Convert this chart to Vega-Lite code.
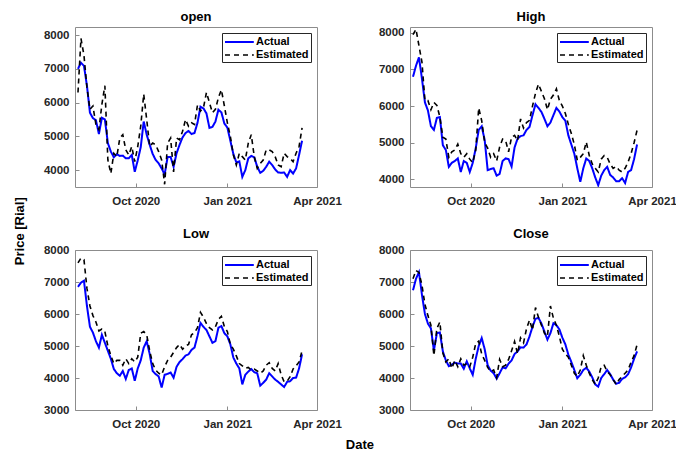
{
"$schema": "https://vega.github.io/schema/vega-lite/v6.json",
"background": "white",
"padding": {"left": 13, "top": 10, "right": 2, "bottom": 2},
"datasets": {
"open": [
{"date":"2020-08-04","Actual":7000,"Estimated":6300},{"date":"2020-08-07","Actual":7180,"Estimated":7900},{"date":"2020-08-10","Actual":7090,"Estimated":7400},{"date":"2020-08-13","Actual":6500,"Estimated":6450},{"date":"2020-08-16","Actual":5700,"Estimated":5800},{"date":"2020-08-19","Actual":5540,"Estimated":5900},{"date":"2020-08-22","Actual":5480,"Estimated":5350},{"date":"2020-08-25","Actual":5070,"Estimated":5200},{"date":"2020-08-28","Actual":5550,"Estimated":5950},{"date":"2020-08-31","Actual":5500,"Estimated":6500},
{"date":"2020-09-03","Actual":4800,"Estimated":4300},{"date":"2020-09-06","Actual":4550,"Estimated":3900},{"date":"2020-09-09","Actual":4380,"Estimated":4500},{"date":"2020-09-12","Actual":4470,"Estimated":4400},{"date":"2020-09-15","Actual":4420,"Estimated":4950},{"date":"2020-09-18","Actual":4430,"Estimated":5050},{"date":"2020-09-21","Actual":4350,"Estimated":4600},{"date":"2020-09-24","Actual":4350,"Estimated":4450},{"date":"2020-09-27","Actual":4450,"Estimated":4700},{"date":"2020-09-30","Actual":3950,"Estimated":4250},
{"date":"2020-10-03","Actual":4290,"Estimated":4700},{"date":"2020-10-06","Actual":4680,"Estimated":5300},{"date":"2020-10-09","Actual":5440,"Estimated":6250},{"date":"2020-10-12","Actual":5050,"Estimated":5500},{"date":"2020-10-15","Actual":4750,"Estimated":4700},{"date":"2020-10-18","Actual":4480,"Estimated":4800},{"date":"2020-10-21","Actual":4300,"Estimated":4750},{"date":"2020-10-24","Actual":4200,"Estimated":4550},{"date":"2020-10-27","Actual":4050,"Estimated":4300},{"date":"2020-10-30","Actual":3870,"Estimated":3580},
{"date":"2020-11-02","Actual":4390,"Estimated":4800},{"date":"2020-11-05","Actual":4390,"Estimated":4950},{"date":"2020-11-08","Actual":4100,"Estimated":3950},{"date":"2020-11-11","Actual":4500,"Estimated":4950},{"date":"2020-11-14","Actual":4750,"Estimated":4900},{"date":"2020-11-17","Actual":4970,"Estimated":5150},{"date":"2020-11-20","Actual":5100,"Estimated":5500},{"date":"2020-11-23","Actual":5160,"Estimated":5300},{"date":"2020-11-26","Actual":5070,"Estimated":5400},{"date":"2020-11-29","Actual":5100,"Estimated":5350},
{"date":"2020-12-02","Actual":5400,"Estimated":5930},{"date":"2020-12-05","Actual":5880,"Estimated":5750},{"date":"2020-12-08","Actual":5830,"Estimated":5850},{"date":"2020-12-11","Actual":5680,"Estimated":6300},{"date":"2020-12-14","Actual":5250,"Estimated":6000},{"date":"2020-12-17","Actual":5280,"Estimated":5700},{"date":"2020-12-20","Actual":5440,"Estimated":5800},{"date":"2020-12-23","Actual":5790,"Estimated":6150},{"date":"2020-12-26","Actual":5710,"Estimated":6380},{"date":"2020-12-29","Actual":5380,"Estimated":5900},
{"date":"2021-01-01","Actual":5260,"Estimated":5400},{"date":"2021-01-04","Actual":4870,"Estimated":5000},{"date":"2021-01-07","Actual":4480,"Estimated":4450},{"date":"2021-01-10","Actual":4230,"Estimated":4150},{"date":"2021-01-13","Actual":4260,"Estimated":4500},{"date":"2021-01-16","Actual":3800,"Estimated":4400},{"date":"2021-01-19","Actual":4000,"Estimated":4300},{"date":"2021-01-22","Actual":4350,"Estimated":4800},{"date":"2021-01-25","Actual":4420,"Estimated":5050},{"date":"2021-01-28","Actual":4380,"Estimated":4400},
{"date":"2021-01-31","Actual":4100,"Estimated":4050},{"date":"2021-02-03","Actual":3920,"Estimated":4200},{"date":"2021-02-06","Actual":3980,"Estimated":4300},{"date":"2021-02-09","Actual":4100,"Estimated":4600},{"date":"2021-02-12","Actual":4250,"Estimated":4600},{"date":"2021-02-15","Actual":4150,"Estimated":4550},{"date":"2021-02-18","Actual":4020,"Estimated":4400},{"date":"2021-02-21","Actual":3930,"Estimated":4150},{"date":"2021-02-24","Actual":3920,"Estimated":4100},{"date":"2021-02-27","Actual":3930,"Estimated":4500},
{"date":"2021-03-02","Actual":3800,"Estimated":4400},{"date":"2021-03-05","Actual":4000,"Estimated":4350},{"date":"2021-03-08","Actual":3900,"Estimated":4250},{"date":"2021-03-11","Actual":4050,"Estimated":4500},{"date":"2021-03-14","Actual":4450,"Estimated":4700},{"date":"2021-03-17","Actual":4870,"Estimated":5250}
],
"high": [
{"date":"2020-08-04","Actual":6800,"Estimated":7950},{"date":"2020-08-07","Actual":7100,"Estimated":8100},{"date":"2020-08-10","Actual":7330,"Estimated":7650},{"date":"2020-08-13","Actual":6750,"Estimated":7200},{"date":"2020-08-16","Actual":6100,"Estimated":6150},{"date":"2020-08-19","Actual":5880,"Estimated":6150},{"date":"2020-08-22","Actual":5450,"Estimated":5900},{"date":"2020-08-25","Actual":5350,"Estimated":6100},{"date":"2020-08-28","Actual":5680,"Estimated":6020},{"date":"2020-08-31","Actual":5700,"Estimated":5700},
{"date":"2020-09-03","Actual":4930,"Estimated":5150},{"date":"2020-09-06","Actual":4800,"Estimated":5100},{"date":"2020-09-09","Actual":4340,"Estimated":4600},{"date":"2020-09-12","Actual":4450,"Estimated":4750},{"date":"2020-09-15","Actual":4500,"Estimated":4800},{"date":"2020-09-18","Actual":4570,"Estimated":4960},{"date":"2020-09-21","Actual":4200,"Estimated":4700},{"date":"2020-09-24","Actual":4500,"Estimated":4600},{"date":"2020-09-27","Actual":4450,"Estimated":4700},{"date":"2020-09-30","Actual":4200,"Estimated":4550},
{"date":"2020-10-03","Actual":4450,"Estimated":4450},{"date":"2020-10-06","Actual":4850,"Estimated":4800},{"date":"2020-10-09","Actual":5350,"Estimated":5950},{"date":"2020-10-12","Actual":5450,"Estimated":5600},{"date":"2020-10-15","Actual":5070,"Estimated":5000},{"date":"2020-10-18","Actual":4250,"Estimated":4850},{"date":"2020-10-21","Actual":4280,"Estimated":4600},{"date":"2020-10-24","Actual":4300,"Estimated":4700},{"date":"2020-10-27","Actual":4100,"Estimated":4500},{"date":"2020-10-30","Actual":4150,"Estimated":4880},
{"date":"2020-11-02","Actual":4500,"Estimated":5100},{"date":"2020-11-05","Actual":4570,"Estimated":5060},{"date":"2020-11-08","Actual":4550,"Estimated":4750},{"date":"2020-11-11","Actual":4350,"Estimated":5150},{"date":"2020-11-14","Actual":4870,"Estimated":5200},{"date":"2020-11-17","Actual":5110,"Estimated":5050},{"date":"2020-11-20","Actual":5180,"Estimated":5650},{"date":"2020-11-23","Actual":5200,"Estimated":5400},{"date":"2020-11-26","Actual":5350,"Estimated":5550},{"date":"2020-11-29","Actual":5430,"Estimated":5610},
{"date":"2020-12-02","Actual":5750,"Estimated":6000},{"date":"2020-12-05","Actual":6050,"Estimated":6350},{"date":"2020-12-08","Actual":5950,"Estimated":6600},{"date":"2020-12-11","Actual":5840,"Estimated":6400},{"date":"2020-12-14","Actual":5650,"Estimated":6200},{"date":"2020-12-17","Actual":5450,"Estimated":5900},{"date":"2020-12-20","Actual":5550,"Estimated":6190},{"date":"2020-12-23","Actual":5750,"Estimated":6300},{"date":"2020-12-26","Actual":5950,"Estimated":6470},{"date":"2020-12-29","Actual":5850,"Estimated":6150},
{"date":"2021-01-01","Actual":5700,"Estimated":6000},{"date":"2021-01-04","Actual":5600,"Estimated":5800},{"date":"2021-01-07","Actual":5200,"Estimated":5500},{"date":"2021-01-10","Actual":4950,"Estimated":5250},{"date":"2021-01-13","Actual":4700,"Estimated":4950},{"date":"2021-01-16","Actual":4300,"Estimated":4520},{"date":"2021-01-19","Actual":3930,"Estimated":4600},{"date":"2021-01-22","Actual":4300,"Estimated":4700},{"date":"2021-01-25","Actual":4570,"Estimated":5020},{"date":"2021-01-28","Actual":4500,"Estimated":4650},
{"date":"2021-01-31","Actual":4300,"Estimated":4420},{"date":"2021-02-03","Actual":4050,"Estimated":4300},{"date":"2021-02-06","Actual":3840,"Estimated":4200},{"date":"2021-02-09","Actual":4100,"Estimated":4550},{"date":"2021-02-12","Actual":4250,"Estimated":4650},{"date":"2021-02-15","Actual":4340,"Estimated":4600},{"date":"2021-02-18","Actual":4120,"Estimated":4420},{"date":"2021-02-21","Actual":4050,"Estimated":4300},{"date":"2021-02-24","Actual":3950,"Estimated":4350},{"date":"2021-02-27","Actual":3950,"Estimated":4250},
{"date":"2021-03-02","Actual":4030,"Estimated":4200},{"date":"2021-03-05","Actual":3900,"Estimated":4300},{"date":"2021-03-08","Actual":4200,"Estimated":4470},{"date":"2021-03-11","Actual":4250,"Estimated":4700},{"date":"2021-03-14","Actual":4550,"Estimated":5000},{"date":"2021-03-17","Actual":4950,"Estimated":5340}
],
"low": [
{"date":"2020-08-04","Actual":6850,"Estimated":7600},{"date":"2020-08-07","Actual":6980,"Estimated":7750},{"date":"2020-08-10","Actual":7040,"Estimated":7700},{"date":"2020-08-13","Actual":6250,"Estimated":6800},{"date":"2020-08-16","Actual":5600,"Estimated":6250},{"date":"2020-08-19","Actual":5420,"Estimated":5950},{"date":"2020-08-22","Actual":5150,"Estimated":5750},{"date":"2020-08-25","Actual":4950,"Estimated":5470},{"date":"2020-08-28","Actual":5350,"Estimated":5530},{"date":"2020-08-31","Actual":5100,"Estimated":5450},
{"date":"2020-09-03","Actual":4850,"Estimated":5000},{"date":"2020-09-06","Actual":4600,"Estimated":4700},{"date":"2020-09-09","Actual":4280,"Estimated":4450},{"date":"2020-09-12","Actual":4150,"Estimated":4550},{"date":"2020-09-15","Actual":4070,"Estimated":4550},{"date":"2020-09-18","Actual":4220,"Estimated":4400},{"date":"2020-09-21","Actual":3970,"Estimated":4600},{"date":"2020-09-24","Actual":4250,"Estimated":4450},{"date":"2020-09-27","Actual":4300,"Estimated":4600},{"date":"2020-09-30","Actual":3910,"Estimated":4500},
{"date":"2020-10-03","Actual":4300,"Estimated":4650},{"date":"2020-10-06","Actual":4550,"Estimated":5400},{"date":"2020-10-09","Actual":4950,"Estimated":5450},{"date":"2020-10-12","Actual":5150,"Estimated":5350},{"date":"2020-10-15","Actual":4750,"Estimated":4850},{"date":"2020-10-18","Actual":4220,"Estimated":4450},{"date":"2020-10-21","Actual":4120,"Estimated":4250},{"date":"2020-10-24","Actual":4050,"Estimated":4150},{"date":"2020-10-27","Actual":3700,"Estimated":4100},{"date":"2020-10-30","Actual":4100,"Estimated":4350},
{"date":"2020-11-02","Actual":4130,"Estimated":4550},{"date":"2020-11-05","Actual":4170,"Estimated":4650},{"date":"2020-11-08","Actual":4010,"Estimated":4800},{"date":"2020-11-11","Actual":4350,"Estimated":4950},{"date":"2020-11-14","Actual":4500,"Estimated":5050},{"date":"2020-11-17","Actual":4590,"Estimated":4900},{"date":"2020-11-20","Actual":4700,"Estimated":5000},{"date":"2020-11-23","Actual":4740,"Estimated":5050},{"date":"2020-11-26","Actual":4880,"Estimated":5350},{"date":"2020-11-29","Actual":4950,"Estimated":5420},
{"date":"2020-12-02","Actual":5310,"Estimated":5570},{"date":"2020-12-05","Actual":5720,"Estimated":6050},{"date":"2020-12-08","Actual":5600,"Estimated":5900},{"date":"2020-12-11","Actual":5500,"Estimated":5700},{"date":"2020-12-14","Actual":5300,"Estimated":5570},{"date":"2020-12-17","Actual":5100,"Estimated":5500},{"date":"2020-12-20","Actual":5150,"Estimated":5600},{"date":"2020-12-23","Actual":5570,"Estimated":5830},{"date":"2020-12-26","Actual":5620,"Estimated":5930},{"date":"2020-12-29","Actual":5400,"Estimated":5600},
{"date":"2021-01-01","Actual":5300,"Estimated":5450},{"date":"2021-01-04","Actual":5050,"Estimated":5050},{"date":"2021-01-07","Actual":4640,"Estimated":4900},{"date":"2021-01-10","Actual":4450,"Estimated":4690},{"date":"2021-01-13","Actual":4300,"Estimated":4450},{"date":"2021-01-16","Actual":3800,"Estimated":4380},{"date":"2021-01-19","Actual":4100,"Estimated":4300},{"date":"2021-01-22","Actual":4200,"Estimated":4330},{"date":"2021-01-25","Actual":4280,"Estimated":4250},{"date":"2021-01-28","Actual":4180,"Estimated":4280},
{"date":"2021-01-31","Actual":4150,"Estimated":4220},{"date":"2021-02-03","Actual":3760,"Estimated":4150},{"date":"2021-02-06","Actual":3850,"Estimated":4220},{"date":"2021-02-09","Actual":3950,"Estimated":4400},{"date":"2021-02-12","Actual":4150,"Estimated":4480},{"date":"2021-02-15","Actual":4050,"Estimated":4300},{"date":"2021-02-18","Actual":3950,"Estimated":4220},{"date":"2021-02-21","Actual":3880,"Estimated":4450},{"date":"2021-02-24","Actual":3800,"Estimated":4100},{"date":"2021-02-27","Actual":3720,"Estimated":3880},
{"date":"2021-03-02","Actual":3880,"Estimated":3900},{"date":"2021-03-05","Actual":3900,"Estimated":4040},{"date":"2021-03-08","Actual":4000,"Estimated":4280},{"date":"2021-03-11","Actual":4010,"Estimated":4380},{"date":"2021-03-14","Actual":4300,"Estimated":4500},{"date":"2021-03-17","Actual":4740,"Estimated":4850}
],
"close": [
{"date":"2020-08-04","Actual":6740,"Estimated":7100},{"date":"2020-08-07","Actual":7100,"Estimated":7360},{"date":"2020-08-10","Actual":7310,"Estimated":7300},{"date":"2020-08-13","Actual":6600,"Estimated":6900},{"date":"2020-08-16","Actual":6000,"Estimated":6300},{"date":"2020-08-19","Actual":5700,"Estimated":5950},{"date":"2020-08-22","Actual":5550,"Estimated":5650},{"date":"2020-08-25","Actual":4860,"Estimated":4700},{"date":"2020-08-28","Actual":5400,"Estimated":5550},{"date":"2020-08-31","Actual":5420,"Estimated":5750},
{"date":"2020-09-03","Actual":4830,"Estimated":4780},{"date":"2020-09-06","Actual":4550,"Estimated":4500},{"date":"2020-09-09","Actual":4370,"Estimated":4600},{"date":"2020-09-12","Actual":4420,"Estimated":4300},{"date":"2020-09-15","Actual":4480,"Estimated":4550},{"date":"2020-09-18","Actual":4450,"Estimated":4350},{"date":"2020-09-21","Actual":4450,"Estimated":4600},{"date":"2020-09-24","Actual":4290,"Estimated":4400},{"date":"2020-09-27","Actual":4520,"Estimated":4450},{"date":"2020-09-30","Actual":4300,"Estimated":4350},
{"date":"2020-10-03","Actual":4100,"Estimated":4650},{"date":"2020-10-06","Actual":4600,"Estimated":5080},{"date":"2020-10-09","Actual":5000,"Estimated":5150},{"date":"2020-10-12","Actual":5250,"Estimated":4750},{"date":"2020-10-15","Actual":4900,"Estimated":4550},{"date":"2020-10-18","Actual":4400,"Estimated":4330},{"date":"2020-10-21","Actual":4230,"Estimated":4200},{"date":"2020-10-24","Actual":4150,"Estimated":4250},{"date":"2020-10-27","Actual":3980,"Estimated":4010},{"date":"2020-10-30","Actual":4150,"Estimated":4580},
{"date":"2020-11-02","Actual":4330,"Estimated":4350},{"date":"2020-11-05","Actual":4300,"Estimated":4400},{"date":"2020-11-08","Actual":4450,"Estimated":4580},{"date":"2020-11-11","Actual":4550,"Estimated":4850},{"date":"2020-11-14","Actual":4750,"Estimated":5140},{"date":"2020-11-17","Actual":4830,"Estimated":4760},{"date":"2020-11-20","Actual":4960,"Estimated":5250},{"date":"2020-11-23","Actual":4950,"Estimated":5100},{"date":"2020-11-26","Actual":5050,"Estimated":5540},{"date":"2020-11-29","Actual":5300,"Estimated":5810},
{"date":"2020-12-02","Actual":5600,"Estimated":5500},{"date":"2020-12-05","Actual":5850,"Estimated":6200},{"date":"2020-12-08","Actual":5880,"Estimated":5900},{"date":"2020-12-11","Actual":5700,"Estimated":5650},{"date":"2020-12-14","Actual":5450,"Estimated":5400},{"date":"2020-12-17","Actual":5200,"Estimated":5300},{"date":"2020-12-20","Actual":5400,"Estimated":6250},{"date":"2020-12-23","Actual":5710,"Estimated":5870},{"date":"2020-12-26","Actual":5650,"Estimated":5650},{"date":"2020-12-29","Actual":5520,"Estimated":5300},
{"date":"2021-01-01","Actual":5260,"Estimated":4900},{"date":"2021-01-04","Actual":5050,"Estimated":4750},{"date":"2021-01-07","Actual":4730,"Estimated":4650},{"date":"2021-01-10","Actual":4500,"Estimated":4400},{"date":"2021-01-13","Actual":4250,"Estimated":4150},{"date":"2021-01-16","Actual":3990,"Estimated":4050},{"date":"2021-01-19","Actual":4100,"Estimated":4250},{"date":"2021-01-22","Actual":4250,"Estimated":4700},{"date":"2021-01-25","Actual":4320,"Estimated":4400},{"date":"2021-01-28","Actual":4200,"Estimated":4150},
{"date":"2021-01-31","Actual":4020,"Estimated":3950},{"date":"2021-02-03","Actual":3800,"Estimated":3800},{"date":"2021-02-06","Actual":3730,"Estimated":4000},{"date":"2021-02-09","Actual":4000,"Estimated":4360},{"date":"2021-02-12","Actual":4120,"Estimated":4400},{"date":"2021-02-15","Actual":4250,"Estimated":4200},{"date":"2021-02-18","Actual":4120,"Estimated":4100},{"date":"2021-02-21","Actual":3950,"Estimated":3950},{"date":"2021-02-24","Actual":3820,"Estimated":3800},{"date":"2021-02-27","Actual":3850,"Estimated":3950},
{"date":"2021-03-02","Actual":3970,"Estimated":4050},{"date":"2021-03-05","Actual":4020,"Estimated":4150},{"date":"2021-03-08","Actual":4120,"Estimated":4250},{"date":"2021-03-11","Actual":4330,"Estimated":4500},{"date":"2021-03-14","Actual":4600,"Estimated":4700},{"date":"2021-03-17","Actual":4830,"Estimated":5040}
]
},
"title": {"text": "Price [Rial]", "orient": "left", "anchor": "middle", "offset": 16},
"vconcat": [
{
"title": {"text": "Date", "orient": "bottom", "anchor": "middle", "offset": 9},
"columns": 2,
"bounds": "flush",
"spacing": {"row": 63, "column": 93},
"resolve": {"scale": {"color": "independent", "strokeDash": "independent", "strokeWidth": "independent"}, "legend": {"color": "independent", "strokeDash": "independent"}},
"concat": [
{
"title": "open",
"width": 242, "height": 160,
"data": {"name": "open"},
"transform": [{"fold": ["Actual", "Estimated"], "as": ["series", "price"]}],
"mark": {"type": "line", "clip": true},
"encoding": {
"x": {"field": "date", "type": "temporal", "scale": {"type": "utc", "domain": [{"year": 2020, "month": 8, "date": 1, "utc": true}, {"year": 2021, "month": 4, "date": 1, "utc": true}]}, "axis": {"title": null, "format": "%b %Y", "values": [{"year": 2020, "month": 10, "date": 1, "utc": true}, {"year": 2021, "month": 1, "date": 1, "utc": true}, {"year": 2021, "month": 4, "date": 1, "utc": true}]}},
"y": {"field": "price", "type": "quantitative", "scale": {"domain": [3500, 8240], "nice": false, "zero": false}, "axis": {"title": null, "format": "d", "values": [4000, 5000, 6000, 7000, 8000]}},
"color": {"field": "series", "type": "nominal", "scale": {"domain": ["Actual", "Estimated"], "range": ["#0000ff", "#000000"]}, "legend": {"title": null}},
"strokeDash": {"field": "series", "type": "nominal", "scale": {"domain": ["Actual", "Estimated"], "range": [[1, 0], [5, 4]]}, "legend": {"title": null}},
"strokeWidth": {"field": "series", "type": "nominal", "scale": {"domain": ["Actual", "Estimated"], "range": [2, 1.6]}, "legend": null}
}
},
{
"title": "High",
"width": 242, "height": 160,
"data": {"name": "high"},
"transform": [{"fold": ["Actual", "Estimated"], "as": ["series", "price"]}],
"mark": {"type": "line", "clip": true},
"encoding": {
"x": {"field": "date", "type": "temporal", "scale": {"type": "utc", "domain": [{"year": 2020, "month": 8, "date": 1, "utc": true}, {"year": 2021, "month": 4, "date": 1, "utc": true}]}, "axis": {"title": null, "format": "%b %Y", "values": [{"year": 2020, "month": 10, "date": 1, "utc": true}, {"year": 2021, "month": 1, "date": 1, "utc": true}, {"year": 2021, "month": 4, "date": 1, "utc": true}]}},
"y": {"field": "price", "type": "quantitative", "scale": {"domain": [3790, 8160], "nice": false, "zero": false}, "axis": {"title": null, "format": "d", "values": [4000, 5000, 6000, 7000, 8000]}},
"color": {"field": "series", "type": "nominal", "scale": {"domain": ["Actual", "Estimated"], "range": ["#0000ff", "#000000"]}, "legend": {"title": null}},
"strokeDash": {"field": "series", "type": "nominal", "scale": {"domain": ["Actual", "Estimated"], "range": [[1, 0], [5, 4]]}, "legend": {"title": null}},
"strokeWidth": {"field": "series", "type": "nominal", "scale": {"domain": ["Actual", "Estimated"], "range": [2, 1.6]}, "legend": null}
}
},
{
"title": "Low",
"width": 242, "height": 160,
"data": {"name": "low"},
"transform": [{"fold": ["Actual", "Estimated"], "as": ["series", "price"]}],
"mark": {"type": "line", "clip": true},
"encoding": {
"x": {"field": "date", "type": "temporal", "scale": {"type": "utc", "domain": [{"year": 2020, "month": 8, "date": 1, "utc": true}, {"year": 2021, "month": 4, "date": 1, "utc": true}]}, "axis": {"title": null, "format": "%b %Y", "values": [{"year": 2020, "month": 10, "date": 1, "utc": true}, {"year": 2021, "month": 1, "date": 1, "utc": true}, {"year": 2021, "month": 4, "date": 1, "utc": true}]}},
"y": {"field": "price", "type": "quantitative", "scale": {"domain": [3000, 8000], "nice": false, "zero": false}, "axis": {"title": null, "format": "d", "values": [3000, 4000, 5000, 6000, 7000, 8000]}},
"color": {"field": "series", "type": "nominal", "scale": {"domain": ["Actual", "Estimated"], "range": ["#0000ff", "#000000"]}, "legend": {"title": null}},
"strokeDash": {"field": "series", "type": "nominal", "scale": {"domain": ["Actual", "Estimated"], "range": [[1, 0], [5, 4]]}, "legend": {"title": null}},
"strokeWidth": {"field": "series", "type": "nominal", "scale": {"domain": ["Actual", "Estimated"], "range": [2, 1.6]}, "legend": null}
}
},
{
"title": "Close",
"width": 242, "height": 160,
"data": {"name": "close"},
"transform": [{"fold": ["Actual", "Estimated"], "as": ["series", "price"]}],
"mark": {"type": "line", "clip": true},
"encoding": {
"x": {"field": "date", "type": "temporal", "scale": {"type": "utc", "domain": [{"year": 2020, "month": 8, "date": 1, "utc": true}, {"year": 2021, "month": 4, "date": 1, "utc": true}]}, "axis": {"title": null, "format": "%b %Y", "values": [{"year": 2020, "month": 10, "date": 1, "utc": true}, {"year": 2021, "month": 1, "date": 1, "utc": true}, {"year": 2021, "month": 4, "date": 1, "utc": true}]}},
"y": {"field": "price", "type": "quantitative", "scale": {"domain": [3000, 8000], "nice": false, "zero": false}, "axis": {"title": null, "format": "d", "values": [3000, 4000, 5000, 6000, 7000, 8000]}},
"color": {"field": "series", "type": "nominal", "scale": {"domain": ["Actual", "Estimated"], "range": ["#0000ff", "#000000"]}, "legend": {"title": null}},
"strokeDash": {"field": "series", "type": "nominal", "scale": {"domain": ["Actual", "Estimated"], "range": [[1, 0], [5, 4]]}, "legend": {"title": null}},
"strokeWidth": {"field": "series", "type": "nominal", "scale": {"domain": ["Actual", "Estimated"], "range": [2, 1.6]}, "legend": null}
}
}
]
}
],
"config": {
"font": "Liberation Sans",
"view": {"stroke": "#8c8c8c", "strokeWidth": 1},
"title": {"font": "Liberation Sans", "fontSize": 13, "fontWeight": "bold", "color": "#000000", "offset": 3},
"axis": {"domain": false, "grid": false, "labelFont": "Liberation Sans", "labelFontSize": 11.5, "labelFontWeight": "bold", "labelColor": "#262626", "tickColor": "#8c8c8c", "tickSize": -4, "labelFlush": false, "labelOverlap": false},
"axisX": {"labelPadding": 12},
"axisY": {"labelPadding": 10},
"legend": {"orient": "top-right", "offset": 6, "strokeColor": "#262626", "fillColor": "white", "padding": 2, "labelFont": "Liberation Sans", "labelFontSize": 11, "labelFontWeight": "bold", "labelColor": "#000000", "symbolType": "M-1,0H3.8", "symbolSize": 144, "symbolStrokeWidth": 2, "labelOffset": 18, "rowPadding": 1}
}
}
